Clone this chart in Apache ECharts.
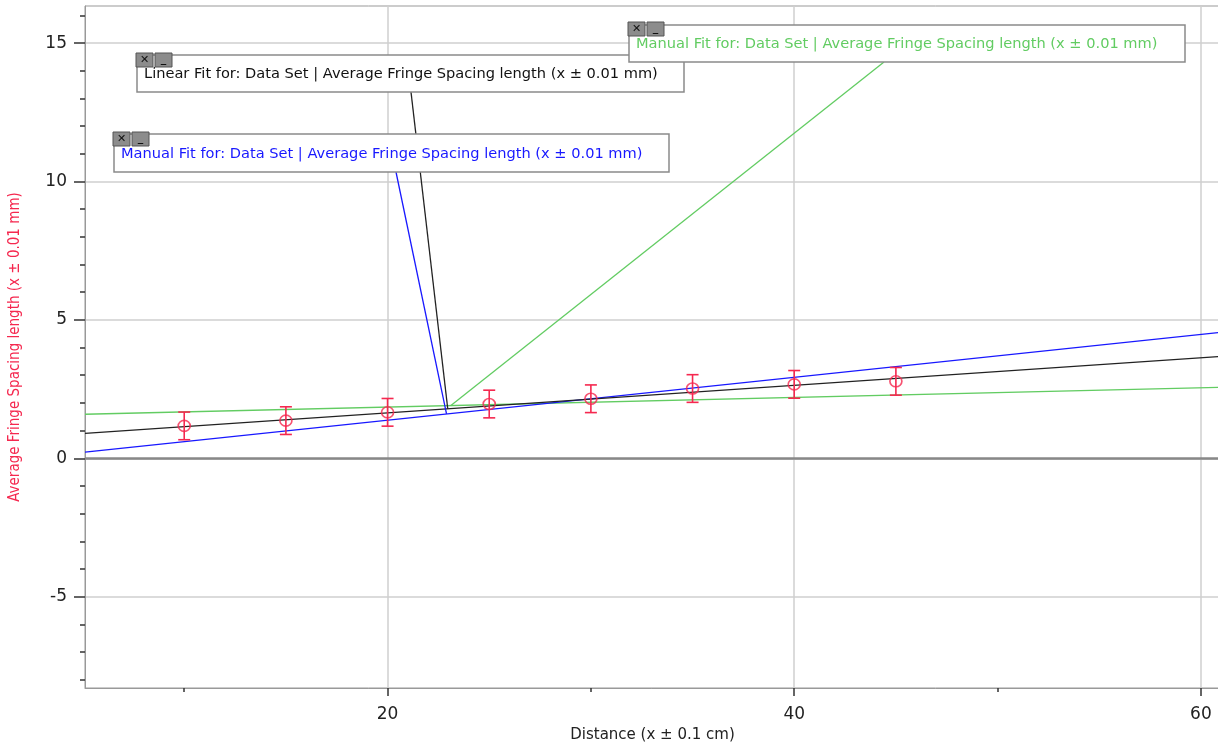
<!DOCTYPE html>
<html><head><meta charset="utf-8">
<script src="https://cdn.jsdelivr.net/npm/echarts@6/dist/echarts.min.js"></script>
<style>html,body{margin:0;padding:0;background:#fff}#c{width:1218px;height:742px}</style>
</head><body><div id="c"></div>
<script>
// ---- data ----
const distance = [10, 15, 20, 25, 30, 35, 40, 45];
const spacing = [1.17, 1.36, 1.66, 1.96, 2.15, 2.52, 2.67, 2.78];
const spacingErr = [0.5, 0.5, 0.5, 0.5, 0.5, 0.5, 0.5, 0.5];

const linearFit = [[5.12, 0.90], [60.94, 3.68]];
const manualFitBlue = [[5.12, 0.22], [60.94, 4.55]];
const manualFitGreen = [[5.12, 1.59], [60.94, 2.56]];

const linearAnchor = [22.96, 1.79];
const blueAnchor = [22.9, 1.60];
const greenAnchor = [23.1, 1.90];

const xMajorTicks = [20, 40, 60];
const xMinorTicks = [10, 30, 50];
const yMajorTicks = [-5, 0, 5, 10, 15];
const yMinorTicks = [-8, -7, -6, -4, -3, -2, -1, 1, 2, 3, 4, 6, 7, 8, 9, 11, 12, 13, 14, 16];

const xRange = [5.12, 60.94];
const yRange = [-8.3, 16.34];

const labelLinear = 'Linear Fit for: Data Set | Average Fringe Spacing length (x ± 0.01 mm)';
const labelManual = 'Manual Fit for: Data Set | Average Fringe Spacing length (x ± 0.01 mm)';

// ---- chart ----
const RED = '#f5284f';
const BLUE = '#1818ff';
const GREEN = '#62cc62';
const FONT = 'DejaVu Sans, sans-serif';

const chart = echarts.init(document.getElementById('c'));
const pts = distance.map((x, i) => [x, spacing[i], spacingErr[i]]);

chart.setOption({
  animation: false,
  backgroundColor: '#fff',
  grid: { left: 85, top: 6, right: -2, bottom: 54, show: true, borderColor: '#999', borderWidth: 1,
          containLabel: false, outerBoundsMode: 'none' },
  xAxis: [
    {
      type: 'value', min: xRange[0], max: xRange[1], position: 'bottom',
      axisLine: { show: true, onZero: false, lineStyle: { color: '#999' } },
      axisTick: { show: true, customValues: xMajorTicks, length: 8, lineStyle: { color: '#333', width: 1.5 } },
      axisLabel: { customValues: xMajorTicks, fontSize: 17, color: '#222', margin: 18, fontFamily: FONT },
      splitLine: { show: true, lineStyle: { color: '#cfcfcf', width: 1.5 } },
      name: 'Distance (x ± 0.1 cm)', nameLocation: 'middle', nameGap: 36,
      nameTextStyle: { fontSize: 15, color: '#222', fontFamily: FONT }
    },
    {
      type: 'value', min: xRange[0], max: xRange[1], position: 'bottom',
      axisLine: { show: false, onZero: false },
      axisTick: { show: true, customValues: xMinorTicks, length: 4, lineStyle: { color: '#333', width: 1.5 } },
      axisLabel: { show: false }, splitLine: { show: false }
    }
  ],
  yAxis: [
    {
      type: 'value', min: yRange[0], max: yRange[1], position: 'left',
      axisLine: { show: true, onZero: false, lineStyle: { color: '#999' } },
      axisTick: { show: true, customValues: yMajorTicks, length: 11, lineStyle: { color: '#333', width: 1.5 } },
      axisLabel: { customValues: yMajorTicks, fontSize: 17, color: '#222', margin: 18, fontFamily: FONT },
      splitLine: { show: true, lineStyle: { color: '#cfcfcf', width: 1.5 } },
      name: 'Average Fringe Spacing length (x ± 0.01 mm)', nameLocation: 'middle', nameGap: 62, nameRotate: 90,
      nameTextStyle: { fontSize: 15, color: RED, fontFamily: 'Liberation Sans Narrow, DejaVu Sans Condensed, sans-serif' }
    },
    {
      type: 'value', min: yRange[0], max: yRange[1], position: 'left',
      axisLine: { show: false, onZero: false },
      axisTick: { show: true, customValues: yMinorTicks, length: 5, lineStyle: { color: '#333', width: 1.5 } },
      axisLabel: { show: false }, splitLine: { show: false }
    }
  ],
  series: [
    {
      type: 'line', data: manualFitGreen, symbol: 'none', lineStyle: { color: GREEN, width: 1.3 }, z: 3,
      markLine: {
        silent: true, symbol: 'none', label: { show: false },
        lineStyle: { color: '#888', width: 2.5, type: 'solid' },
        data: [{ yAxis: 0 }]
      }
    },
    { type: 'line', data: manualFitBlue, symbol: 'none', lineStyle: { color: BLUE, width: 1.3 }, z: 3 },
    { type: 'line', data: linearFit, symbol: 'none', lineStyle: { color: '#222', width: 1.3 }, z: 3 },
    {
      type: 'custom', data: pts, z: 5,
      renderItem: function (params, api) {
        const x = api.value(0), y = api.value(1), e = api.value(2);
        const top = api.coord([x, y + e]);
        const bot = api.coord([x, y - e]);
        const c = 6;
        const st = { stroke: RED, lineWidth: 1.6 };
        return {
          type: 'group',
          children: [
            { type: 'line', shape: { x1: top[0], y1: top[1], x2: bot[0], y2: bot[1] }, style: st },
            { type: 'line', shape: { x1: top[0] - c, y1: top[1], x2: top[0] + c, y2: top[1] }, style: st },
            { type: 'line', shape: { x1: bot[0] - c, y1: bot[1], x2: bot[0] + c, y2: bot[1] }, style: st }
          ]
        };
      }
    },
    {
      type: 'scatter', data: pts.map(p => [p[0], p[1]]), symbol: 'circle', symbolSize: [12, 11], z: 6,
      itemStyle: { color: 'rgba(0,0,0,0)', borderColor: RED, borderWidth: 1.6 }
    }
  ]
});

// ---- annotation boxes with leader lines ----
const pL = chart.convertToPixel({ xAxisIndex: 0, yAxisIndex: 0 }, linearAnchor);
const pB = chart.convertToPixel({ xAxisIndex: 0, yAxisIndex: 0 }, blueAnchor);
const pG = chart.convertToPixel({ xAxisIndex: 0, yAxisIndex: 0 }, greenAnchor);

function icons(x, y) {
  return [
    { type: 'rect', z: 20, shape: { x: x, y: y, width: 17, height: 14 }, style: { fill: '#8c8c8c', stroke: '#555', lineWidth: 1 } },
    { type: 'text', z: 21, x: x + 8.5, y: y + 7, style: { text: '✕', fill: '#111', font: 'bold 11px DejaVu Sans', align: 'center', verticalAlign: 'middle' } },
    { type: 'rect', z: 20, shape: { x: x + 19, y: y, width: 17, height: 14 }, style: { fill: '#8c8c8c', stroke: '#555', lineWidth: 1 } },
    { type: 'text', z: 21, x: x + 27.5, y: y + 6, style: { text: '_', fill: '#111', font: 'bold 11px DejaVu Sans', align: 'center', verticalAlign: 'middle' } }
  ];
}
function box(x, y, w, h, text, color) {
  return [
    { type: 'rect', z: 15, shape: { x: x, y: y, width: w, height: h }, style: { fill: '#fff', stroke: '#8a8a8a', lineWidth: 1.5 } },
    { type: 'text', z: 16, x: x + 7, y: y + h / 2 + 1, style: { text: text, fill: color, font: '14.6px DejaVu Sans', verticalAlign: 'middle' } }
  ];
}
function leader(x1, y1, p, color, z) {
  return { type: 'line', z: z, shape: { x1: x1, y1: y1, x2: p[0], y2: p[1] }, style: { stroke: color, lineWidth: 1.3 } };
}

chart.setOption({
  graphic: [
    leader(884, 62, pG, GREEN, 10),
    leader(411, 92, pL, '#222', 10),
    leader(396, 172, pB, BLUE, 10),
    ...box(137, 55, 547, 37, labelLinear, '#111'),
    ...box(114, 134, 555, 38, labelManual, BLUE),
    ...box(629, 25, 556, 37, labelManual, GREEN),
    ...icons(136, 53),
    ...icons(113, 132),
    ...icons(628, 22)
  ]
});
</script>
</body></html>
